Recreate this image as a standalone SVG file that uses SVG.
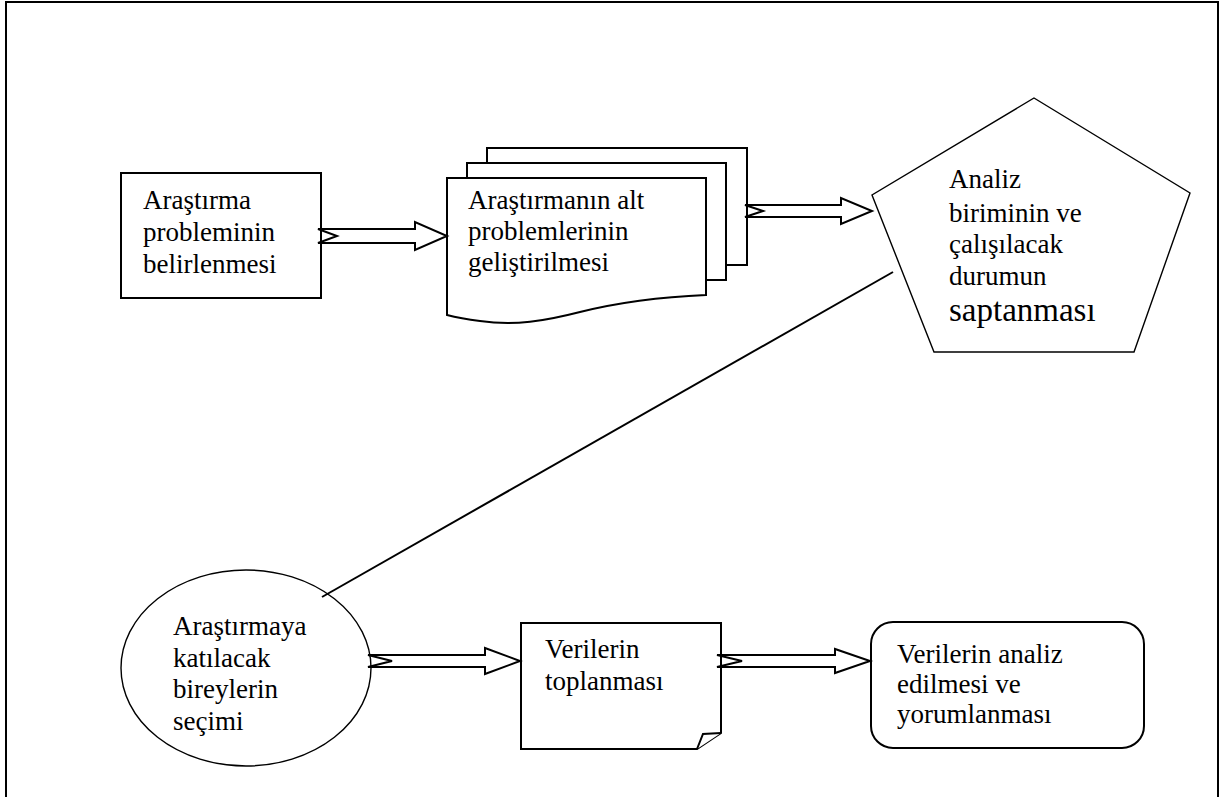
<svg xmlns="http://www.w3.org/2000/svg" width="1222" height="797" viewBox="0 0 1222 797">
  <defs>
    <style>
      .shape { fill: #ffffff; stroke: #000000; stroke-width: 2; }
      .thin { fill: #ffffff; stroke: #000000; stroke-width: 1.4; }
      .label { font-family: 'Liberation Serif', 'Times New Roman', serif; font-size: 27px; fill: #000000; }
      .big { font-size: 33px; }
      .arrow { fill: #ffffff; stroke: #000000; stroke-width: 2; stroke-linejoin: miter; }
      .link { fill: none; stroke: #000000; stroke-width: 2; }
    </style>
  </defs>

  <rect width="1222" height="797" fill="#ffffff"/>
  <!-- page frame -->
  <path d="M6,800 V2 H1218 V800" fill="none" stroke="#000000" stroke-width="2"/>

  <g id="node-problem">
    <rect class="shape" x="121" y="173" width="200" height="125"/>
    <text class="label" x="143" y="209">Araştırma</text>
    <text class="label" x="143" y="241">probleminin</text>
    <text class="label" x="143" y="273">belirlenmesi</text>
  </g>

  <g id="node-subproblems">
    <rect class="shape" x="487" y="148" width="260" height="117"/>
    <rect class="shape" x="467" y="163" width="259" height="117"/>
    <path class="shape" d="M447,178 H706 V295 C660,297 620,302 580,312 C545,321 515,326 480,321 C465,319 455,317 447,315 Z"/>
    <text class="label" x="468" y="209">Araştırmanın alt</text>
    <text class="label" x="468" y="240">problemlerinin</text>
    <text class="label" x="468" y="271">geliştirilmesi</text>
  </g>

  <g id="node-analysis-unit">
    <polygon class="thin" points="1034,98 1190,193 1134,352 934,352 872,195"/>
    <text class="label" x="949" y="188">Analiz</text>
    <text class="label" x="949" y="222">biriminin ve</text>
    <text class="label" x="949" y="253">çalışılacak</text>
    <text class="label" x="949" y="285">durumun</text>
    <text class="label big" x="949" y="321">saptanması</text>
  </g>

  <g id="node-participants">
    <ellipse class="thin" cx="246" cy="668" rx="125" ry="98"/>
    <text class="label" x="173" y="635">Araştırmaya</text>
    <text class="label" x="173" y="667">katılacak</text>
    <text class="label" x="173" y="698">bireylerin</text>
    <text class="label" x="173" y="730">seçimi</text>
  </g>

  <g id="node-data-collection">
    <path class="shape" d="M521,623 H721 V733 L697,749 H521 Z"/>
    <path class="shape" d="M697,749 L703,734 L721,733"/>
    <text class="label" x="545" y="658">Verilerin</text>
    <text class="label" x="545" y="690">toplanması</text>
  </g>

  <g id="node-data-analysis">
    <rect class="shape" x="871" y="622" width="273" height="126" rx="22" ry="22"/>
    <text class="label" x="897" y="663">Verilerin analiz</text>
    <text class="label" x="897" y="693">edilmesi ve</text>
    <text class="label" x="897" y="723">yorumlanması</text>
  </g>

  <g id="connectors">
    <polygon class="arrow" points="318,229 415,229 415,222 447,236 415,250 415,243 318,243 337,236"/>
    <polygon class="arrow" points="745,205 841,205 841,198 872,211 841,224 841,217 745,217 763,211"/>
    <line class="link" x1="893" y1="272" x2="322" y2="597"/>
    <polygon class="arrow" points="368,655 485,655 485,648 520,661 485,674 485,667 368,667 392,661"/>
    <polygon class="arrow" points="717,655 835,655 835,649 870,661 835,673 835,667 717,667 742,661"/>
  </g>
</svg>
